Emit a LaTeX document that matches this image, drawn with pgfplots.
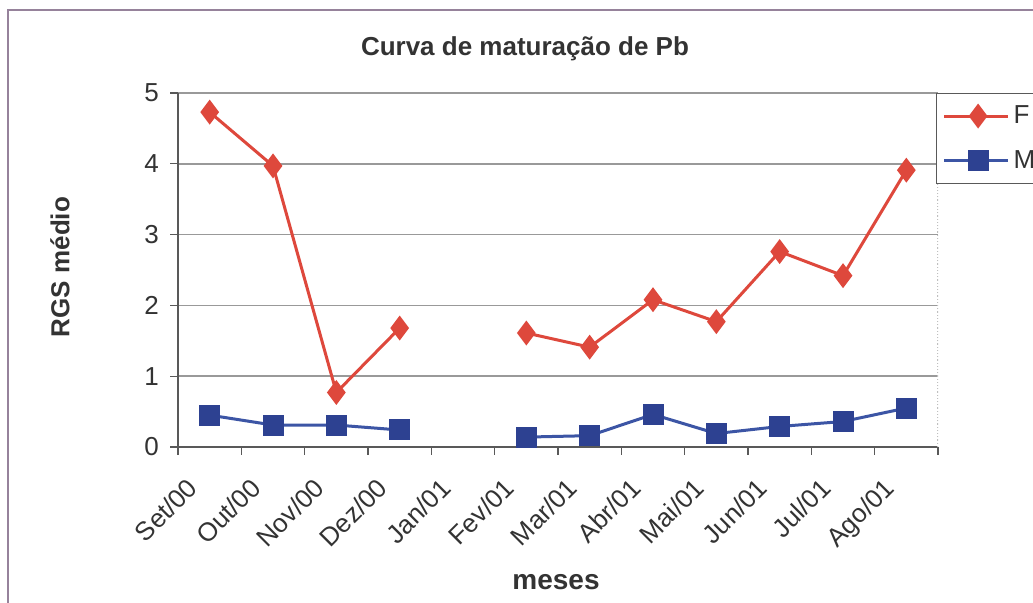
\documentclass[border=0pt]{standalone}
\usepackage{pgfplots}
\pgfplotsset{compat=1.18}
\usepackage{fontspec}
\setmainfont{Liberation Sans}
\definecolor{fred}{RGB}{222,72,60}
\definecolor{mblue}{RGB}{45,65,145}
\definecolor{mline}{RGB}{60,85,165}
\definecolor{framec}{RGB}{150,130,155}
\begin{document}
\begin{tikzpicture}
\clip (0,0) rectangle (516.5pt,301.5pt);
\fill[white] (0,0) rectangle (516.5pt,301.5pt);
\draw[framec, line width=0.8pt] (4pt,-5pt) -- (4pt,296.5pt) -- (530pt,296.5pt);
\begin{axis}[
  at={(89pt,78pt)}, anchor=south west,
  width=380pt, height=177pt, scale only axis,
  xmin=-0.5, xmax=11.5, ymin=0, ymax=5,
  axis x line*=bottom, axis y line*=left,
  axis line style={gray!70!black, line width=0.8pt},
  ytick={0,1,2,3,4,5},
  ymajorgrids, grid style={gray!80, line width=0.8pt},
  xtick={0,...,11},
  xticklabels={Set/00,Out/00,Nov/00,Dez/00,Jan/01,Fev/01,Mar/01,Abr/01,Mai/01,Jun/01,Jul/01,Ago/01},
  major x tick style={draw=none},
  minor xtick={-0.5,0.5,...,11.5},
  minor tick length=4pt, major tick length=4pt,
  tick align=outside,
  tick style={gray!70!black, line width=0.6pt},
  xticklabel style={rotate=45, anchor=north east, inner sep=0pt, xshift=-16pt, yshift=1pt, font=\fontsize{13}{15}\selectfont, text=black!80},
  yticklabel style={font=\fontsize{13}{15}\selectfont, text=black!80, xshift=-2pt},
  /pgf/number format/assume math mode=true,
  unbounded coords=jump,
  legend style={at={(1,1)}, anchor=north west, draw=gray!70!black, line width=0.6pt,
    font=\fontsize{13}{15}\selectfont, text=black!80, row sep=8pt, inner ysep=4pt, xshift=-1pt},
  legend cell align=left,
  legend image code/.code={
    \draw[#1] (0pt,0pt) -- (32pt,0pt);
    \draw[#1, mark repeat=1] plot coordinates {(17pt,0pt)};
  },
]
\addplot[fred, line width=1.5pt, mark=diamond*, mark size=5pt, mark options={solid, fill=fred}]
  coordinates {(0,4.73) (1,3.97) (2,0.77) (3,1.68) (4,nan) (5,1.61) (6,1.41) (7,2.08) (8,1.77) (9,2.76) (10,2.42) (11,3.91)};
\addlegendentry{F}
\addplot[mline, line width=1.5pt, mark=square*, mark size=4.5pt, mark options={solid, fill=mblue, draw=mblue}]
  coordinates {(0,0.45) (1,0.31) (2,0.31) (3,0.24) (4,nan) (5,0.14) (6,0.16) (7,0.46) (8,0.19) (9,0.29) (10,0.36) (11,0.55)};
\addlegendentry{M}
\draw[gray!50, densely dotted, line width=0.6pt] (rel axis cs:1,0) -- (rel axis cs:1,1);
\end{axis}
\node[font=\bfseries\fontsize{13}{15}\selectfont, text=black!80] at (262.5pt,277pt) {Curva de maturação de Pb};
\node[font=\bfseries\fontsize{13}{15}\selectfont, text=black!80, rotate=90] at (30pt,168pt) {RGS médio};
\node[font=\bfseries\fontsize{14}{16}\selectfont, text=black!80] at (278pt,10.5pt) {meses};
\end{tikzpicture}
\end{document}
